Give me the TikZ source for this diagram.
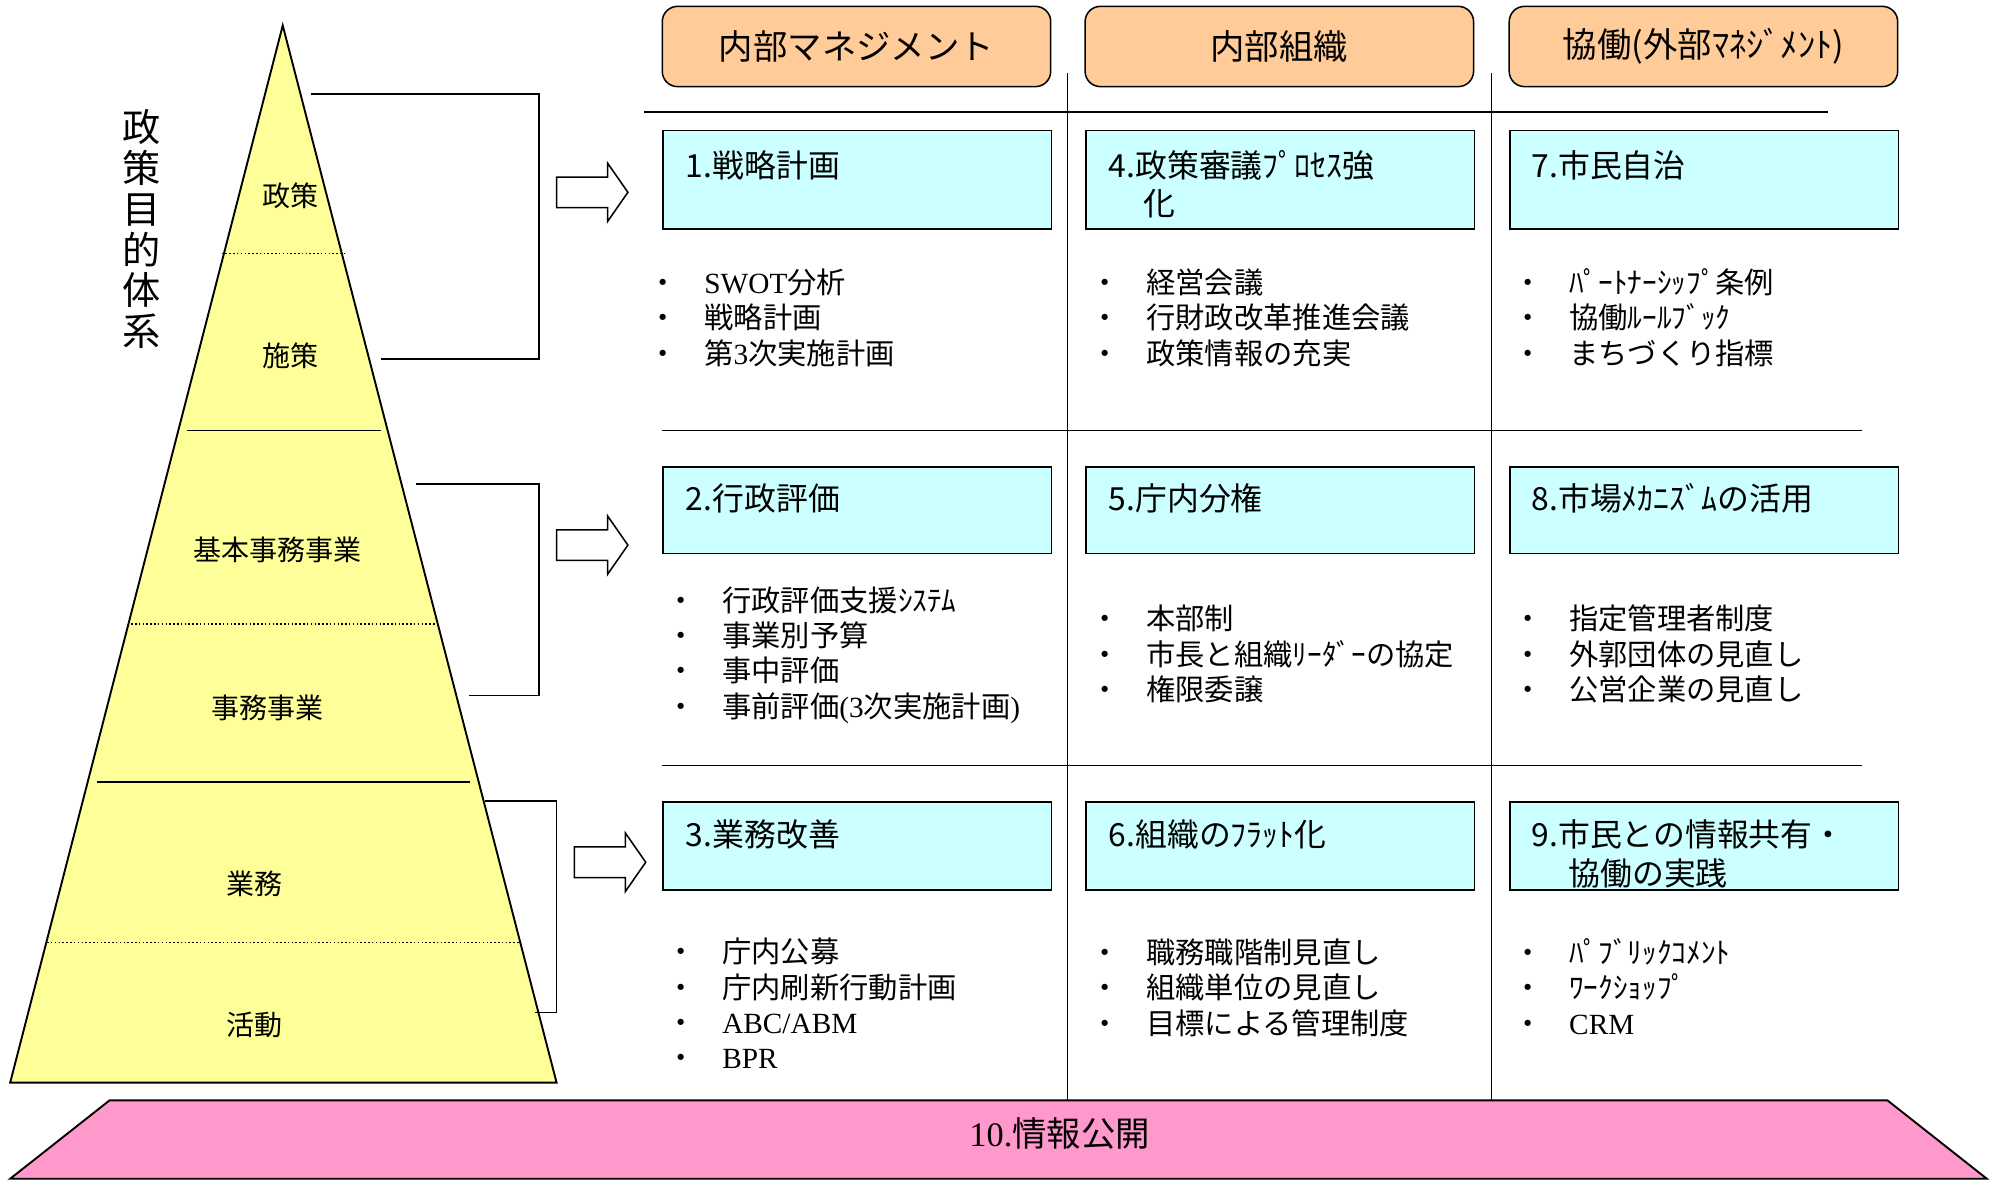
\documentclass[tikz,border=0pt]{standalone}
\usepackage{fontspec}
\setmainfont{Noto Sans CJK JP}
\newfontfamily\latnfont{Liberation Serif}
\newcommand{\latn}[1]{{\latnfont #1}}
\newcommand{\dotitem}{\makebox[44pt][l]{・}}
\definecolor{pyryellow}{HTML}{FFFF99}
\definecolor{headorange}{HTML}{FFCC99}
\definecolor{topiccyan}{HTML}{CCFFFF}
\definecolor{infopink}{HTML}{FF99CC}

\begin{document}
\begin{tikzpicture}[x=1pt, y=-1pt, line width=1.2pt]
    \tikzstyle{colhead} = [draw, rectangle, rounded corners=12pt, fill=headorange, minimum width=305pt, minimum height=63pt, inner sep=0pt, font=\fontsize{27}{32}\selectfont];
    \tikzstyle{topic} = [draw, rectangle, fill=topiccyan, minimum width=305pt, anchor=north west, inner sep=0pt];
    \tikzstyle{topictitle} = [anchor=base west, align=left, inner sep=0pt, font=\fontsize{25}{30}\selectfont];
    \tikzstyle{items} = [anchor=base west, align=left, inner sep=0pt, font=\fontsize{23}{27.7}\selectfont];
    \tikzstyle{tier} = [inner sep=0pt, font=\fontsize{22}{26}\selectfont];
    \tikzstyle{divider} = [draw, line width=1.2pt];
    \tikzstyle{dotrule} = [draw, line width=1pt, dash pattern=on 1.2pt off 1.8pt];
    \tikzstyle{hollow} = [draw, fill=white, line width=1.2pt, line join=miter];
    \useasboundingbox (0,0) rectangle (1568,927);

    \draw[fill=pyryellow, line width=1.5pt] (222,20) -- (437,850) -- (8,850) -- cycle;
    \path[dotrule] (174,199) -- (271,199);
    \path[divider] (147,338) -- (299,338);
    \path[dotrule] (103,490) -- (343,490);
    \path[divider] (76,614) -- (369,614);
    \path[dotrule] (37,740) -- (408,740);
    \node[tier] (lvPolicy) at (228,154) {政策};
    \node[tier] (lvMeasure) at (228,279) {施策};
    \node[tier] (lvBasic) at (218,432) {基本事務事業};
    \node[tier] (lvProject) at (210,556) {事務事業};
    \node[tier] (lvTask) at (200,694) {業務};
    \node[tier] (lvAct) at (200,805) {活動};
    \node[align=center, inner sep=0pt, font=\fontsize{30}{32}\selectfont] (axis) at (111,180) {政\\策\\目\\的\\体\\系};

    \path[divider] (244,74) -- (423,74) -- (423,282) -- (299,282);
    \path[divider] (327,380) -- (423,380) -- (423,546) -- (368,546);
    \path[divider] (381,629) -- (437,629) -- (437,795) -- (420,795);
    \path[hollow] (437,139) -- ++(40,0) -- ++(0,-11) -- ++(16,23) -- ++(-16,23) -- ++(0,-11) -- ++(-40,0) -- cycle;
    \path[hollow] (437,416) -- ++(40,0) -- ++(0,-11) -- ++(16,23) -- ++(-16,23) -- ++(0,-11) -- ++(-40,0) -- cycle;
    \path[hollow] (451,665) -- ++(40,0) -- ++(0,-11) -- ++(16,23) -- ++(-16,23) -- ++(0,-11) -- ++(-40,0) -- cycle;

    \path[divider] (506,88) -- (1435,88);
    \path[divider] (838,57) -- (838,864);
    \path[divider] (1171,57) -- (1171,864);
    \path[divider] (520,338) -- (1462,338);
    \path[divider] (520,601) -- (1462,601);

    \node[colhead] (hdInt) at (672.5,36.5) {内部マネジメント};
    \node[colhead] (hdOrg) at (1004.5,36.5) {内部組織};
    \node[colhead] (hdExt) at (1337.5,36.5) {協働(外部ﾏﾈｼﾞﾒﾝﾄ)};

    \node[topic, minimum height=77pt] (tp1) at (520,102) {};
    \node[topic, minimum height=77pt] (tp4) at (852,102) {};
    \node[topic, minimum height=77pt] (tp7) at (1185,102) {};
    \node[topic, minimum height=68pt] (tp2) at (520,366) {};
    \node[topic, minimum height=68pt] (tp5) at (852,366) {};
    \node[topic, minimum height=68pt] (tp8) at (1185,366) {};
    \node[topic, minimum height=69pt] (tp3) at (520,629) {};
    \node[topic, minimum height=69pt] (tp6) at (852,629) {};
    \node[topic, minimum height=69pt] (tp9) at (1185,629) {};

    \node[topictitle] (ttl1) at (538,139) {1.戦略計画};
    \node[topictitle] (ttl4) at (870,169) {4.政策審議ﾌﾟﾛｾｽ強\\\hspace*{27pt}化};
    \node[topictitle] (ttl7) at (1202,139) {7.市民自治};
    \node[topictitle] (ttl2) at (538,401) {2.行政評価};
    \node[topictitle] (ttl5) at (870,401) {5.庁内分権};
    \node[topictitle] (ttl8) at (1202,401) {8.市場ﾒｶﾆｽﾞﾑの活用};
    \node[topictitle] (ttl3) at (538,665) {3.業務改善};
    \node[topictitle] (ttl6) at (870,665) {6.組織のﾌﾗｯﾄ化};
    \node[topictitle] (ttl9) at (1202,695) {9.市民との情報共有・\\\hspace*{29pt}協働の実践};

    \node[items] (it1) at (508.5,286) {\dotitem\latn{SWOT}分析\\\dotitem 戦略計画\\\dotitem 第\latn{3}次実施計画};
    \node[items] (it4) at (855.5,286) {\dotitem 経営会議\\\dotitem 行財政改革推進会議\\\dotitem 政策情報の充実};
    \node[items] (it7) at (1187.5,286) {\dotitem ﾊﾟｰﾄﾅｰｼｯﾌﾟ条例\\\dotitem 協働ﾙｰﾙﾌﾞｯｸ\\\dotitem まちづくり指標};
    \node[items] (it2) at (522.5,563) {\dotitem 行政評価支援ｼｽﾃﾑ\\\dotitem 事業別予算\\\dotitem 事中評価\\\dotitem 事前評価\latn{(3}次実施計画\latn{)}};
    \node[items] (it5) at (855.5,550) {\dotitem 本部制\\\dotitem 市長と組織ﾘｰﾀﾞｰの協定\\\dotitem 権限委譲};
    \node[items] (it8) at (1187.5,550) {\dotitem 指定管理者制度\\\dotitem 外郭団体の見直し\\\dotitem 公営企業の見直し};
    \node[items] (it3) at (522.5,839) {\dotitem 庁内公募\\\dotitem 庁内刷新行動計画\\\dotitem\latn{ABC/ABM}\\\dotitem\latn{BPR}};
    \node[items] (it6) at (855.5,812) {\dotitem 職務職階制見直し\\\dotitem 組織単位の見直し\\\dotitem 目標による管理制度};
    \node[items] (it9) at (1187.5,812) {\dotitem ﾊﾟﾌﾞﾘｯｸｺﾒﾝﾄ\\\dotitem ﾜｰｸｼｮｯﾌﾟ\\\dotitem\latn{CRM}};

    \draw[fill=infopink, line width=1.5pt] (86,864) -- (1482,864) -- (1560,925.5) -- (8,925.5) -- cycle;
    \node[inner sep=0pt, font=\fontsize{27}{32}\selectfont] (info) at (832,890) {\latn{10.}情報公開};
\end{tikzpicture}
\end{document}
